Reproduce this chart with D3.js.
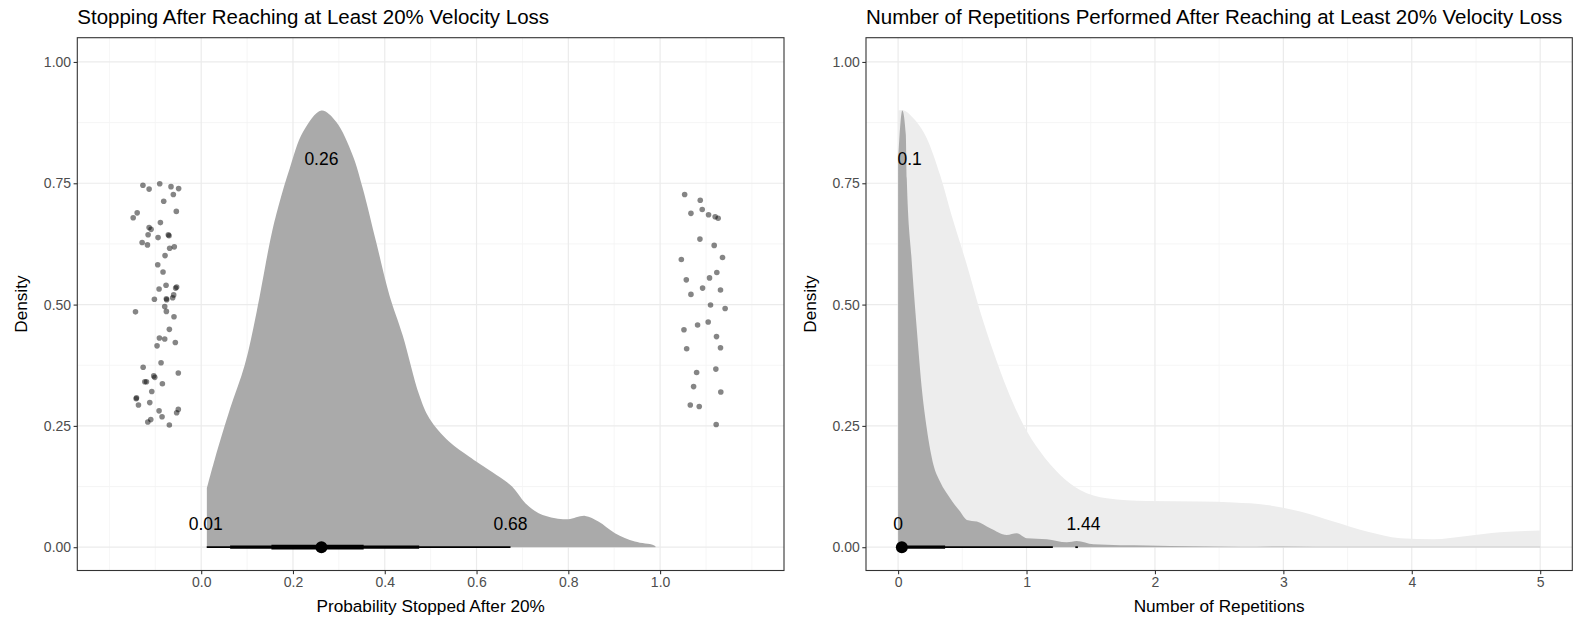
<!DOCTYPE html>
<html>
<head>
<meta charset="utf-8">
<script src="https://cdn.jsdelivr.net/npm/d3@7"></script>
<style>
  html, body { margin: 0; padding: 0; background: #fff; }
  svg { display: block; }
  text { font-family: "Liberation Sans", Arial, Helvetica, sans-serif; }
</style>
</head>
<body>
<svg id="chart" width="1575" height="621"></svg>
<script>
// ---------------- DATA ----------------
const titles = [
  "Stopping After Reaching at Least 20% Velocity Loss",
  "Number of Repetitions Performed After Reaching at Least 20% Velocity Loss"
];
const xTitles = ["Probability Stopped After 20%", "Number of Repetitions"];
const yTitle = "Density";

const yTicks = [0, 0.25, 0.5, 0.75, 1.0];
const yTickLabels = ["0.00", "0.25", "0.50", "0.75", "1.00"];
const yMinor = [0.125, 0.375, 0.625, 0.875];

const leftXTicks = [0, 0.2, 0.4, 0.6, 0.8, 1.0];
const leftXTickLabels = ["0.0", "0.2", "0.4", "0.6", "0.8", "1.0"];
const leftXMinor = [-0.2, -0.1, 0.1, 0.3, 0.5, 0.7, 0.9, 1.1, 1.2];

const rightXTicks = [0, 1, 2, 3, 4, 5];
const rightXTickLabels = ["0", "1", "2", "3", "4", "5"];
const rightXMinor = [0.5, 1.5, 2.5, 3.5, 4.5];

// posterior density of probability stopped (x, density)
const leftDensity = [
  [0.0123,0.1216],[0.030,0.183],[0.063,0.286],[0.095,0.376],[0.121,0.486],
  [0.153,0.644],[0.171,0.712],[0.193,0.781],[0.222,0.856],[0.262,0.900],
  [0.294,0.877],[0.330,0.808],[0.352,0.740],[0.381,0.630],[0.410,0.520],
  [0.439,0.437],[0.475,0.314],[0.497,0.266],[0.540,0.218],[0.5835,0.187],
  [0.605,0.173],[0.6486,0.1456],[0.6775,0.125],[0.7064,0.0906],[0.7354,0.070],
  [0.7715,0.0597],[0.800,0.0576],[0.8366,0.0645],[0.8655,0.0528],[0.9017,0.0288],
  [0.945,0.0116],[0.985,0.0047],[0.990,0.002]
];

// jittered raw observations: stopped = 0 (left cluster), stopped = 1 (right cluster)
const pointsNotStopped = [
  [-0.127,0.746],[-0.1135,0.738],[-0.0904,0.749],[-0.0658,0.743],[-0.0492,0.739],
  [-0.0607,0.727],[-0.0817,0.713],[-0.1395,0.689],[-0.1482,0.679],[-0.0542,0.692],
  [-0.0889,0.669],[-0.1135,0.659],[-0.1092,0.655],[-0.1157,0.644],[-0.094,0.638],
  [-0.0716,0.644],[-0.0701,0.642],[-0.1287,0.628],[-0.1171,0.623],[-0.0687,0.616],
  [-0.0586,0.619],[-0.0788,0.601],[-0.0947,0.582],[-0.0832,0.567],[-0.0918,0.532],
  [-0.0766,0.540],[-0.0535,0.536],[-0.0557,0.534],[-0.060,0.520],[-0.102,0.511],
  [-0.0759,0.512],[-0.0752,0.510],[-0.0622,0.514],[-0.0795,0.496],[-0.0759,0.486],
  [-0.1432,0.485],[-0.0593,0.475],[-0.0694,0.449],[-0.0911,0.431],[-0.0795,0.429],
  [-0.0962,0.415],[-0.0564,0.422],[-0.0875,0.380],[-0.1265,0.371],[-0.0499,0.359],
  [-0.1034,0.353],[-0.1012,0.350],[-0.1193,0.341],[-0.1229,0.341],[-0.0846,0.337],
  [-0.1077,0.321],[-0.141,0.308],[-0.1417,0.306],[-0.1367,0.293],[-0.1121,0.298],
  [-0.0918,0.281],[-0.0853,0.269],[-0.0499,0.284],[-0.0535,0.277],[-0.1099,0.263],
  [-0.1164,0.258],[-0.0694,0.252]
];
const pointsStopped = [
  [1.0535,0.727],[1.0875,0.715],[1.0672,0.688],[1.0918,0.696],[1.1056,0.685],
  [1.120,0.681],[1.1265,0.678],[1.0868,0.635],[1.1179,0.622],[1.0463,0.593],
  [1.136,0.597],[1.0571,0.551],[1.1077,0.555],[1.1236,0.566],[1.0926,0.534],
  [1.1316,0.530],[1.0672,0.521],[1.1099,0.499],[1.1417,0.492],[1.0817,0.458],
  [1.1048,0.464],[1.052,0.448],[1.1229,0.434],[1.0579,0.409],[1.1316,0.411],
  [1.0796,0.360],[1.1215,0.367],[1.073,0.331],[1.1323,0.320],[1.0658,0.293],
  [1.0853,0.290],[1.1222,0.253]
];

// interval (lo, hi, level) and point estimate, left panel
const leftIntervals = [[0.012,0.674,"thin"],[0.063,0.475,"mid"],[0.153,0.354,"thick"]];
const leftPoint = 0.262;
const leftLabels = [["0.26",0.262,0.80],["0.01",0.010,0.049],["0.68",0.674,0.049]];

// repetition densities: light and dark
const rightLightDensity = [
  [0,0.900],[0.029,0.901],[0.119,0.884],[0.223,0.843],[0.327,0.767],[0.431,0.671],
  [0.535,0.582],[0.639,0.486],[0.742,0.403],[0.846,0.328],[0.976,0.252],[1.106,0.197],
  [1.262,0.149],[1.417,0.118],[1.625,0.101],[1.937,0.0954],[2.352,0.094],[2.612,0.092],
  [2.871,0.087],[3.131,0.0734],[3.39,0.0528],[3.65,0.0322],[3.91,0.0185],[4.169,0.0165],
  [4.429,0.0233],[4.688,0.0309],[5.0,0.0343]
];
const rightDarkDensity = [
  [0,0.80],[0.033,0.90],[0.060,0.85],[0.0675,0.76],[0.106,0.589],[0.145,0.451],
  [0.184,0.328],[0.223,0.245],[0.275,0.170],[0.327,0.135],[0.405,0.101],[0.483,0.0734],
  [0.535,0.0563],[0.613,0.0528],[0.717,0.039],[0.846,0.0254],[0.924,0.0288],[1.002,0.0185],
  [1.158,0.0165],[1.314,0.0103],[1.391,0.013],[1.521,0.0062],[1.937,0.0034],[2.3,0.002],
  [2.664,0.0008],[3.0,0.0015],[3.5,0.0008],[4.0,0.0012],[4.5,0.0008],[5.0,0.0012]
];
const rightIntervals = [[0.0,1.205,"thin"],[0.0,0.366,"mid"],[1.38,1.40,"thin"]];
const rightPoint = 0.029;
const rightLabels = [["0.1",0.09,0.80],["0",0.0,0.049],["1.44",1.443,0.049]];

// ---------------- DRAW ----------------
const svg = d3.select("#chart");
const lw = {thin: 1.7, mid: 3.2, thick: 4.8};
const panelTop = 37.7, panelBottom = 570.5;
const y = d3.scaleLinear().domain([-0.048, 1.05]).range([panelBottom, panelTop]);

function panel(opts) {
  const x = d3.scaleLinear().domain(opts.xDomain).range(opts.xRange);
  const g = svg.append("g");
  const [x0, x1] = opts.xRange;

  // grid
  g.selectAll(".ymin").data(yMinor).join("line")
    .attr("x1", x0).attr("x2", x1).attr("y1", d => y(d)).attr("y2", d => y(d))
    .attr("stroke", "#F2F2F2").attr("stroke-width", 0.8);
  g.selectAll(".xmin").data(opts.xMinor).join("line")
    .attr("y1", panelTop).attr("y2", panelBottom).attr("x1", d => x(d)).attr("x2", d => x(d))
    .attr("stroke", "#F4F4F4").attr("stroke-width", 0.8);
  g.selectAll(".ymaj").data(yTicks).join("line")
    .attr("x1", x0).attr("x2", x1).attr("y1", d => y(d)).attr("y2", d => y(d))
    .attr("stroke", "#EBEBEB").attr("stroke-width", 1.2);
  g.selectAll(".xmaj").data(opts.xTicks).join("line")
    .attr("y1", panelTop).attr("y2", panelBottom).attr("x1", d => x(d)).attr("x2", d => x(d))
    .attr("stroke", "#EBEBEB").attr("stroke-width", 1.2);

  opts.densities.forEach(dd => {
    const area = d3.area().x(d => x(d[0])).y0(y(0)).y1(d => y(Math.max(0, d[1])))
      .curve(dd.curve);
    g.append("path").attr("d", area(dd.data)).attr("fill", dd.fill);
  });

  (opts.points || []).forEach(pts => {
    g.selectAll(null).data(pts).join("circle")
      .attr("cx", d => x(d[0])).attr("cy", d => y(d[1])).attr("r", 2.8)
      .attr("fill", "#000").attr("fill-opacity", 0.48);
  });

  g.selectAll(null).data(opts.intervals).join("line")
    .attr("x1", d => x(d[0])).attr("x2", d => x(d[1]))
    .attr("y1", y(0)).attr("y2", y(0))
    .attr("stroke", "#000").attr("stroke-width", d => lw[d[2]]);
  g.append("circle").attr("cx", x(opts.point)).attr("cy", y(0)).attr("r", 6).attr("fill", "#000");

  g.selectAll(null).data(opts.labels).join("text")
    .attr("x", d => x(d[1])).attr("y", d => y(d[2]) + 6.2)
    .attr("text-anchor", "middle").attr("font-size", 17.5).attr("fill", "#000")
    .text(d => d[0]);

  // border
  g.append("rect").attr("x", x0).attr("y", panelTop)
    .attr("width", x1 - x0).attr("height", panelBottom - panelTop)
    .attr("fill", "none").attr("stroke", "#333333").attr("stroke-width", 1.1);

  // axes
  const xAxis = d3.axisBottom(x).tickValues(opts.xTicks)
    .tickFormat((d, i) => opts.xTickLabels[i]).tickSize(3.7).tickPadding(2.5);
  const xa = g.append("g").attr("transform", `translate(0,${panelBottom})`).call(xAxis);
  const yAxis = d3.axisLeft(y).tickValues(yTicks)
    .tickFormat((d, i) => yTickLabels[i]).tickSize(3.7).tickPadding(2.5);
  const ya = g.append("g").attr("transform", `translate(${x0},0)`).call(yAxis);
  [xa, ya].forEach(a => {
    a.select(".domain").remove();
    a.selectAll(".tick line").attr("stroke", "#333333").attr("stroke-width", 1.1);
    a.selectAll(".tick text").attr("fill", "#4D4D4D").attr("font-size", 14)
      .attr("font-family", '"Liberation Sans", Arial, sans-serif');
  });

  // titles
  g.append("text").attr("x", x0).attr("y", 24).attr("font-size", 20.5).attr("fill", "#000")
    .text(opts.title);
  g.append("text").attr("x", (x0 + x1) / 2).attr("y", 612).attr("text-anchor", "middle")
    .attr("font-size", 17.2).attr("fill", "#000").text(opts.xTitle);
  g.append("text").attr("transform", `translate(${x0 - 50},${(panelTop + panelBottom) / 2}) rotate(-90)`)
    .attr("text-anchor", "middle").attr("font-size", 17.2).attr("fill", "#000").text(yTitle);
}

panel({
  xDomain: [-0.27, 1.27], xRange: [77.3, 784],
  xTicks: leftXTicks, xTickLabels: leftXTickLabels, xMinor: leftXMinor,
  densities: [{data: leftDensity, fill: "#AAAAAA", curve: d3.curveCatmullRom.alpha(0.5)}],
  points: [pointsNotStopped, pointsStopped],
  intervals: leftIntervals, point: leftPoint, labels: leftLabels,
  title: titles[0], xTitle: xTitles[0]
});
panel({
  xDomain: [-0.25, 5.25], xRange: [866, 1572.3],
  xTicks: rightXTicks, xTickLabels: rightXTickLabels, xMinor: rightXMinor,
  densities: [
    {data: rightLightDensity, fill: "#EDEDED", curve: d3.curveMonotoneX},
    {data: rightDarkDensity, fill: "#AAAAAA", curve: d3.curveMonotoneX}
  ],
  points: [],
  intervals: rightIntervals, point: rightPoint, labels: rightLabels,
  title: titles[1], xTitle: xTitles[1]
});
</script>
</body>
</html>
